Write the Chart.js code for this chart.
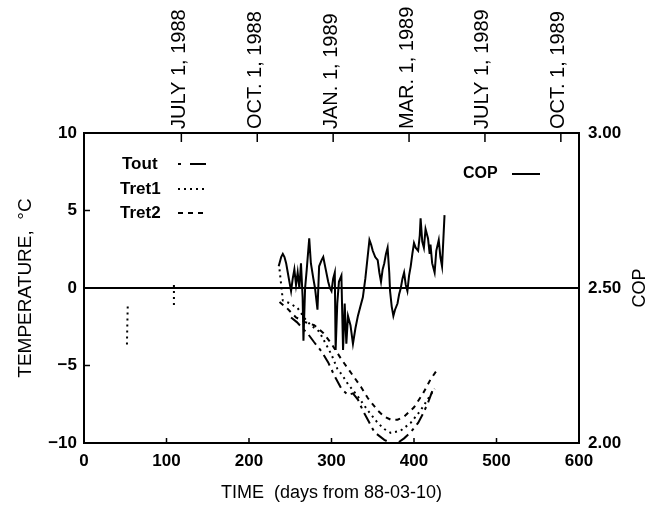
<!DOCTYPE html>
<html>
<head>
<meta charset="utf-8">
<script src="https://cdn.jsdelivr.net/npm/chart.js@4.4.0/dist/chart.umd.min.js"></script>
<style>
html, body { margin: 0; padding: 0; background: #fff; }
</style>
</head>
<body>
<canvas id="myChart" width="658" height="507"></canvas>
<script>
'use strict'
//////////////////
// Data
//////////////////
const xTicks = [0, 100, 200, 300, 400, 500, 600];
const tempTicks = [-10, -5, 0, 5, 10];
const copTicks = [2.0, 2.5, 3.0];
const topTickDays = [118, 210, 302, 394, 486, 578];
const topTickLabels = ['JULY 1, 1988', 'OCT. 1, 1988', 'JAN. 1, 1989', 'MAR. 1, 1989', 'JULY 1, 1989', 'OCT. 1, 1989'];

const copDays = [236, 239, 241, 243, 245, 247, 249, 251, 253, 255, 257, 259, 261, 263, 265, 266, 268, 270, 273, 275,
  278, 280, 283, 285, 288, 290, 293, 296, 298, 300, 302, 304, 305, 307, 309, 312, 314, 316, 318, 320,
  323, 326, 329, 332, 335, 338, 341, 343, 346, 348, 350, 353, 356, 358, 360, 362, 364, 366, 368, 370,
  371, 373, 375, 377, 380, 382, 384, 386, 388, 390, 392, 394, 396, 398, 400, 402, 405, 407, 408, 410,
  412, 414, 417, 419, 420, 422, 425, 427, 430, 432, 434, 437];
const copValues = [2.57, 2.60, 2.61, 2.60, 2.58, 2.55, 2.52, 2.49, 2.53, 2.56, 2.51, 2.55, 2.50, 2.58, 2.47, 2.33, 2.50, 2.56, 2.66, 2.58,
  2.53, 2.50, 2.43, 2.57, 2.59, 2.60, 2.56, 2.52, 2.50, 2.49, 2.53, 2.55, 2.30, 2.45, 2.52, 2.54, 2.30, 2.45, 2.32, 2.41,
  2.38, 2.32, 2.37, 2.41, 2.44, 2.47, 2.53, 2.58, 2.655, 2.64, 2.62, 2.60, 2.59, 2.55, 2.52, 2.56, 2.58, 2.61, 2.63, 2.55,
  2.49, 2.44, 2.41, 2.43, 2.45, 2.48, 2.50, 2.53, 2.55, 2.51, 2.49, 2.54, 2.57, 2.61, 2.645, 2.63, 2.62, 2.67, 2.725, 2.65,
  2.63, 2.69, 2.66, 2.61, 2.64, 2.58, 2.55, 2.62, 2.655, 2.60, 2.57, 2.735];

const toutDays = [251, 258, 265, 272, 279, 288, 296, 303, 312, 320, 326, 332, 338, 345, 352, 364, 372, 380, 388, 396, 405, 411, 417, 424];
const toutTemps = [-1.9, -2.2, -2.6, -3.0, -3.5, -4.1, -4.8, -5.6, -6.5, -6.9, -6.8, -7.2, -7.9, -8.6, -9.3, -9.8, -10.0, -10.0, -9.7, -9.3, -8.7, -8.1, -7.4, -6.4];

// null temps break the line between fragments
const tret1Days = [53, 52.5, 52, 80, 109, 109, 150, 237, 239, 241, 250, 259, 268, 275, 285, 293, 300, 307, 314, 320, 332, 344, 356, 364, 372, 384, 396, 408, 420, 425];
const tret1Temps = [-1.2, -2.4, -3.8, null, 0.2, -1.1, null, 1.2, 0.2, -0.8, -1.0, -1.3, -2.0, -2.4, -2.8, -3.6, -4.3, -5.2, -5.7, -6.2, -7.0, -7.9, -8.7, -9.1, -9.35, -9.2, -8.7, -7.9, -6.9, -6.5];

const tret2Days = [237, 246, 257, 268, 279, 290, 300, 312, 324, 336, 344, 356, 364, 372, 380, 388, 400, 411, 420, 429];
const tret2Temps = [-0.9, -1.3, -1.9, -2.2, -2.4, -2.9, -3.6, -4.6, -5.5, -6.4, -7.1, -7.9, -8.3, -8.5, -8.5, -8.3, -7.7, -6.8, -5.9, -5.2];

/////////////////////////
// Helpers
/////////////////////////
function toPoints(days, values) {
  return days.map((d, i) => ({ x: d, y: values[i] }));
}

function minusLabel(v) {
  return v < 0 ? '\u2212' + Math.abs(v) : String(v);
}

const fontFamily = "'Liberation Sans', Arial, Helvetica, sans-serif";
Chart.defaults.font.family = fontFamily;
Chart.defaults.color = '#000';

// tick marks pointing into the plot, legend and COP title
const framePlugin = {
  id: 'framePlugin',
  afterDraw(chart) {
    const ctx = chart.ctx;
    const area = chart.chartArea;
    const sx = chart.scales.x;
    const st = chart.scales.xTop;
    const sy = chart.scales.y;
    ctx.save();
    ctx.strokeStyle = '#000';
    ctx.lineWidth = 1.5;
    ctx.setLineDash([]);
    ctx.beginPath();
    for (const v of xTicks) {
      const px = sx.getPixelForValue(v);
      ctx.moveTo(px, area.bottom);
      ctx.lineTo(px, area.bottom - 5);
    }
    for (const v of topTickDays) {
      const px = st.getPixelForValue(v);
      ctx.moveTo(px, area.top);
      ctx.lineTo(px, area.top + 9);
    }
    for (const v of tempTicks) {
      const py = sy.getPixelForValue(v);
      ctx.moveTo(area.left, py);
      ctx.lineTo(area.left + 6, py);
    }
    ctx.stroke();

    // legend
    ctx.fillStyle = '#000';
    ctx.textBaseline = 'middle';
    ctx.textAlign = 'left';
    const legendRows = [
      { idx: 1, x: 122, y: 164, x1: 178, x2: 207, size: 17 },
      { idx: 2, x: 120, y: 189, x1: 178, x2: 205, size: 17 },
      { idx: 3, x: 120, y: 213, x1: 178, x2: 205, size: 17 },
      { idx: 0, x: 463, y: 174, x1: 512, x2: 540, size: 16 }
    ];
    for (const row of legendRows) {
      const ds = chart.data.datasets[row.idx];
      ctx.font = 'bold ' + row.size + 'px ' + fontFamily;
      ctx.fillText(ds.label, row.x, row.y);
      ctx.beginPath();
      ctx.lineWidth = ds.borderWidth;
      ctx.setLineDash(ds.legendDash || ds.borderDash || []);
      ctx.moveTo(row.x1, row.y);
      ctx.lineTo(row.x2, row.y);
      ctx.stroke();
    }
    ctx.setLineDash([]);

    // right axis title, reading upward
    ctx.font = '18px ' + fontFamily;
    ctx.textAlign = 'center';
    ctx.translate(640, (area.top + area.bottom) / 2);
    ctx.rotate(-Math.PI / 2);
    ctx.fillText('COP', 0, 0);
    ctx.restore();
  }
};

/////////////////////////
// Chart
/////////////////////////
const data = {
  datasets: [
    {
      label: 'COP',
      data: toPoints(copDays, copValues),
      yAxisID: 'y2',
      borderColor: '#000',
      borderWidth: 2,
      pointRadius: 0,
      tension: 0
    },
    {
      label: 'Tout',
      data: toPoints(toutDays, toutTemps),
      yAxisID: 'y',
      borderColor: '#000',
      borderWidth: 2,
      borderDash: [12, 5, 3, 5],
      legendDash: [3, 9, 16, 100],
      pointRadius: 0
    },
    {
      label: 'Tret1',
      data: toPoints(tret1Days, tret1Temps),
      yAxisID: 'y',
      borderColor: '#000',
      borderWidth: 2,
      borderDash: [2, 4],
      pointRadius: 0
    },
    {
      label: 'Tret2',
      data: toPoints(tret2Days, tret2Temps),
      yAxisID: 'y',
      borderColor: '#000',
      borderWidth: 2,
      borderDash: [5, 5],
      pointRadius: 0
    }
  ]
};

const tickFont = { size: 17, weight: 'bold' };
const frameBorder = { display: true, color: '#000', width: 2 };

const config = {
  type: 'line',
  data: data,
  options: {
    responsive: false,
    animation: false,
    devicePixelRatio: 1,
    spanGaps: false,
    layout: { padding: 0 },
    plugins: {
      legend: { display: false },
      tooltip: { enabled: false }
    },
    scales: {
      x: {
        type: 'linear',
        position: 'bottom',
        min: 0,
        max: 600,
        afterBuildTicks: axis => { axis.ticks = xTicks.map(v => ({ value: v })); },
        afterFit: axis => { axis.height = 64; },
        grid: { display: false, drawTicks: false },
        border: frameBorder,
        ticks: { font: tickFont, padding: 8, maxRotation: 0, autoSkip: false },
        title: {
          display: true,
          text: 'TIME  (days from 88-03-10)',
          font: { size: 18 },
          padding: { top: 0, bottom: 3 }
        }
      },
      xTop: {
        type: 'linear',
        position: 'top',
        min: 0,
        max: 600,
        afterBuildTicks: axis => { axis.ticks = topTickDays.map(v => ({ value: v })); },
        afterFit: axis => { axis.height = 133; },
        grid: { display: false },
        border: frameBorder,
        ticks: {
          font: { size: 20 },
          padding: -4,
          minRotation: 90,
          maxRotation: 90,
          autoSkip: false,
          labelOffset: 22,
          callback: (value, index) => topTickLabels[index]
        }
      },
      y: {
        type: 'linear',
        position: 'left',
        min: -10,
        max: 10,
        afterBuildTicks: axis => { axis.ticks = tempTicks.map(v => ({ value: v })); },
        afterFit: axis => { axis.width = 84; },
        grid: {
          display: true,
          drawTicks: false,
          lineWidth: 2,
          color: c => (c.tick && c.tick.value === 0 ? '#000' : 'rgba(0,0,0,0)')
        },
        border: frameBorder,
        ticks: { font: tickFont, padding: 7, callback: minusLabel },
        title: {
          display: true,
          text: 'TEMPERATURE,  °C',
          font: { size: 19 },
          padding: { top: 14, bottom: 0 }
        }
      },
      y2: {
        type: 'linear',
        position: 'right',
        min: 2.0,
        max: 3.0,
        afterBuildTicks: axis => { axis.ticks = copTicks.map(v => ({ value: v })); },
        afterFit: axis => { axis.width = 79; },
        grid: { display: false, drawTicks: false },
        border: frameBorder,
        ticks: { font: tickFont, padding: 9, callback: v => v.toFixed(2) }
      }
    }
  },
  plugins: [framePlugin]
};

let canvasChart = document.getElementById('myChart');
const myChart = new Chart(canvasChart, config);
</script>
</body>
</html>
